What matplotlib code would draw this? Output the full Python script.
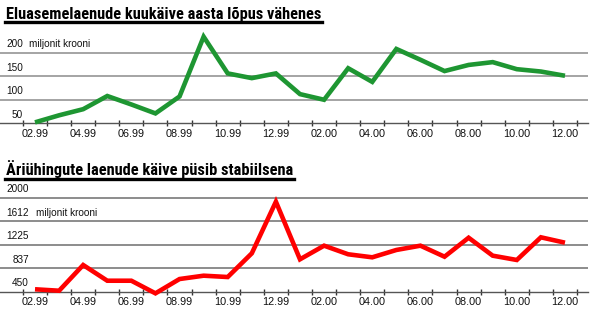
import matplotlib
matplotlib.use("Agg")
import matplotlib.pyplot as plt
from matplotlib.lines import Line2D

# ---- data ----
months = ["02.99", "03.99", "04.99", "05.99", "06.99", "07.99", "08.99", "09.99",
          "10.99", "11.99", "12.99", "01.00", "02.00", "03.00", "04.00", "05.00",
          "06.00", "07.00", "08.00", "09.00", "10.00", "11.00", "12.00"]
housing = [52, 67, 80, 108, 90, 71, 107, 234, 156, 146, 156, 112, 100, 167, 138,
           208, 185, 161, 174, 180, 165, 160, 151]
business = [490, 466, 890, 631, 631, 423, 659, 714, 692, 1083, 1934, 984, 1209,
            1067, 1017, 1138, 1209, 1027, 1340, 1044, 973, 1347, 1258]
top_ticks = [50, 100, 150, 200]
bot_ticks = [450, 837, 1225, 1612, 2000]
title_top = "Eluasemelaenude kuukäive aasta lõpus vähenes"
title_bot = "Äriühingute laenude käive püsib stabiilsena"
unit = "miljonit krooni"

W, H = 590, 324
fig = plt.figure(figsize=(W / 100, H / 100), dpi=100)
fig.patch.set_facecolor("white")

TITLE_FONT = ["Roboto Condensed", "Archivo Narrow", "PT Sans Narrow", "DejaVu Sans"]
FONT = ["Liberation Sans", "DejaVu Sans"]

x = list(range(len(months)))
px_per_month = 24.09
x0_px = 35.0
xmin = -x0_px / px_per_month
xmax = (588 - x0_px) / px_per_month


def make_axes(top_px, bottom_px, vmin, px_per_step, step):
    vmax = vmin + (bottom_px - top_px) / px_per_step * step
    ax = fig.add_axes([0, 1 - bottom_px / H, 588 / W, (bottom_px - top_px) / H])
    ax.set_xlim(xmin, xmax)
    ax.set_ylim(vmin, vmax)
    ax.patch.set_alpha(0)
    for s in ["top", "right", "left"]:
        ax.spines[s].set_visible(False)
    ax.spines["bottom"].set_color("#555555")
    ax.spines["bottom"].set_linewidth(1.0)
    ax.set_yticks([])
    ax.set_xticks([i - 0.5 for i in range(len(months) + 1)][:24])
    ax.set_xticklabels([])
    ax.tick_params(axis="x", direction="inout", length=4, width=1, color="#333333")
    for i, m in enumerate(months):
        if i % 2 == 0:
            ax.annotate(m, (i, vmin), xycoords="data", xytext=(0, -4),
                        textcoords="offset points", ha="center", va="top",
                        fontsize=7.8, family=FONT, color="#111111",
                        annotation_clip=False)
    return ax, vmax


def title(text, x_px, base_px, line_px, target_w):
    t = fig.text(x_px / W, 1 - base_px / H, text, fontsize=11, weight="bold",
                 family=TITLE_FONT, ha="left", va="baseline", color="black")
    fig.canvas.draw()
    bb = t.get_window_extent()
    t.set_fontsize(11 * target_w / bb.width)
    fig.canvas.draw()
    bb = t.get_window_extent()
    right = bb.x1 + 1
    fig.add_artist(Line2D([5 / W, right / W], [1 - line_px / H, 1 - line_px / H],
                          color="black", lw=2.4, transform=fig.transFigure))


# ---- top chart ----
ax1, v1 = make_axes(30, 123.3, 50, 23.53, 50)
for v in top_ticks[1:]:
    ax1.axhline(v, color="#8c8c8c", lw=1.1, zorder=1)
for v in top_ticks:
    ax1.annotate(str(v), (23 / 588, v), xycoords=("axes fraction", "data"),
                 xytext=(0, 2.5), textcoords="offset points", ha="right", va="bottom",
                 fontsize=7.2, family=FONT, color="#111111")
ax1.annotate(unit, (29 / 588, top_ticks[-1]), xycoords=("axes fraction", "data"),
             xytext=(0, 2.5), textcoords="offset points", ha="left", va="bottom",
             fontsize=7.2, family=FONT, color="#111111")
ax1.plot(x, housing, color="#1e9632", lw=3.3, solid_joinstyle="miter",
         solid_capstyle="butt", clip_on=False, zorder=3)

# ---- bottom chart ----
ax2, v2 = make_axes(185, 291.7, 450, 23.5, 387.5)
for v in bot_ticks[1:]:
    ax2.axhline(v, color="#6e6e6e", lw=1.1, zorder=1)
for v in bot_ticks:
    ax2.annotate(str(v), (29 / 588, v), xycoords=("axes fraction", "data"),
                 xytext=(0, 2.5), textcoords="offset points", ha="right", va="bottom",
                 fontsize=7.2, family=FONT, color="#111111")
ax2.annotate(unit, (36 / 588, bot_ticks[3]), xycoords=("axes fraction", "data"),
             xytext=(0, 2.5), textcoords="offset points", ha="left", va="bottom",
             fontsize=7.2, family=FONT, color="#111111")
ax2.plot(x, business, color="#ff0000", lw=3.3, solid_joinstyle="miter",
         solid_capstyle="butt", clip_on=False, zorder=3)

title(title_top, 6, 19, 22.3, 315)
title(title_bot, 6, 175, 179.3, 286)

fig.savefig("out.png", dpi=100, facecolor="white")
